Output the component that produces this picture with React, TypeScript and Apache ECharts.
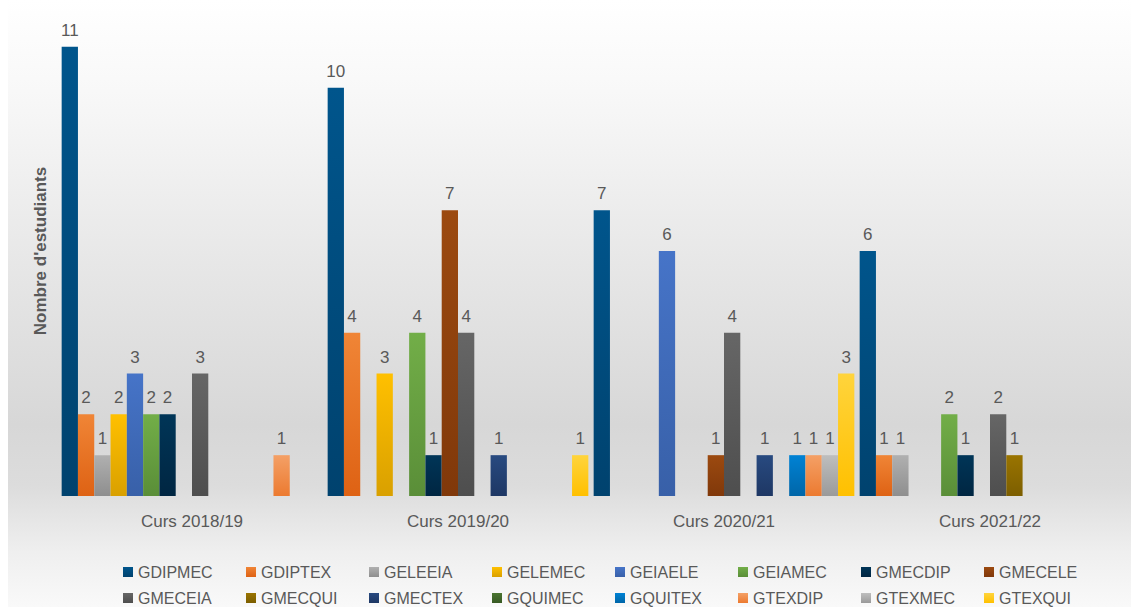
import React, { useEffect, useRef } from "react";
import * as echarts from "echarts";

const categories = ["Curs 2018/19", "Curs 2019/20", "Curs 2020/21", "Curs 2021/22"];

const seriesNames = [
  "GDIPMEC", "GDIPTEX", "GELEEIA", "GELEMEC", "GEIAELE", "GEIAMEC", "GMECDIP", "GMECELE",
  "GMECEIA", "GMECQUI", "GMECTEX", "GQUIMEC", "GQUITEX", "GTEXDIP", "GTEXMEC", "GTEXQUI",
];

const GDIPMEC = [11, 10, 7, 6];
const GDIPTEX = [2, 4, 0, 1];
const GELEEIA = [1, 0, 0, 1];
const GELEMEC = [2, 3, 0, 0];
const GEIAELE = [3, 0, 6, 0];
const GEIAMEC = [2, 4, 0, 2];
const GMECDIP = [2, 1, 0, 1];
const GMECELE = [0, 7, 1, 0];
const GMECEIA = [3, 4, 4, 2];
const GMECQUI = [0, 0, 0, 1];
const GMECTEX = [0, 1, 1, 0];
const GQUIMEC = [0, 0, 0, 0];
const GQUITEX = [0, 0, 1, 0];
const GTEXDIP = [1, 0, 1, 0];
const GTEXMEC = [0, 0, 1, 0];
const GTEXQUI = [0, 1, 3, 0];

const seriesValues = [
  GDIPMEC, GDIPTEX, GELEEIA, GELEMEC, GEIAELE, GEIAMEC, GMECDIP, GMECELE,
  GMECEIA, GMECQUI, GMECTEX, GQUIMEC, GQUITEX, GTEXDIP, GTEXMEC, GTEXQUI,
];

const seriesColors: [string, string][] = [
  ["#00558C", "#00426E"],
  ["#F08536", "#DE6214"],
  ["#B0B0B0", "#8E8E8E"],
  ["#FFC000", "#D9A000"],
  ["#4674C8", "#3860A8"],
  ["#72AE48", "#5A8E38"],
  ["#003557", "#002642"],
  ["#9C4A10", "#80380A"],
  ["#666666", "#4E4E4E"],
  ["#9A7400", "#7C5E00"],
  ["#284A80", "#1E3764"],
  ["#4A7430", "#385A24"],
  ["#0082D4", "#0066A8"],
  ["#F4A066", "#EC7A30"],
  ["#BEBEBE", "#9A9A9A"],
  ["#FFD43C", "#FFC000"],
];

const yAxisTitle = "Nombre d'estudiants";

export default function App() {
  const ref = useRef<HTMLDivElement>(null);

  useEffect(() => {
    if (!ref.current) return;
    const chart = echarts.init(ref.current, undefined, { renderer: "svg" });
    const textColor = "#595959";
    const font = "'Liberation Sans', Arial, sans-serif";

    const series = seriesNames.map((name, i) => ({
      name,
      type: "bar",
      data: seriesValues[i],
      barGap: "0%",
      barCategoryGap: "2%",
      itemStyle: {
        color: new echarts.graphic.LinearGradient(0, 0, 0, 1, [
          { offset: 0, color: seriesColors[i][0] },
          { offset: 1, color: seriesColors[i][1] },
        ]),
      },
      label: {
        show: true,
        position: "top",
        distance: 8,
        color: textColor,
        fontSize: 17,
        fontFamily: font,
        formatter: (p: any) => (p.value ? String(p.value) : ""),
      },
    }));

    const legendCommon = {
      left: 115,
      padding: 0,
      orient: "horizontal",
      itemWidth: 10,
      itemHeight: 10,
      itemGap: 10,
      icon: "rect",
      formatter: (name: string) => `{n|${name}}`,
      textStyle: {
        color: textColor,
        fontSize: 16,
        fontFamily: font,
        lineHeight: 16,
        rich: {
          n: { width: 98, fontSize: 16, lineHeight: 16, color: textColor, fontFamily: font },
        },
      },
    };

    chart.setOption({
      animation: false,
      backgroundColor: new echarts.graphic.LinearGradient(0, 0, 0, 1, [
        { offset: 0, color: "#FFFFFF" },
        { offset: 0.15, color: "#F8F8F8" },
        { offset: 0.45, color: "#E6E6E6" },
        { offset: 0.7, color: "#D7D7D7" },
        { offset: 0.8, color: "#DCDCDC" },
        { offset: 0.91, color: "#EFEFEF" },
        { offset: 1, color: "#F9F9F9" },
      ]),
      grid: { left: 51, right: 8, top: 6, bottom: 111 },
      xAxis: {
        type: "category",
        data: categories,
        axisLine: { show: false },
        axisTick: { show: false },
        axisLabel: { color: textColor, fontSize: 17, fontFamily: font, margin: 17 },
      },
      yAxis: {
        type: "value",
        min: 0,
        max: 12,
        axisLabel: { show: false },
        axisLine: { show: false },
        axisTick: { show: false },
        splitLine: { show: false },
        name: yAxisTitle,
        nameLocation: "middle",
        nameRotate: 90,
        nameGap: 10,
        nameTextStyle: { color: textColor, fontSize: 17, fontWeight: "bold", fontFamily: font },
      },
      legend: [
        { ...legendCommon, top: 564, data: seriesNames.slice(0, 8) },
        { ...legendCommon, top: 590, data: seriesNames.slice(8) },
      ],
      series,
    });
    return () => chart.dispose();
  }, []);

  return (
    <div
      ref={ref}
      style={{ position: "absolute", left: 8, top: 0, width: 1123, height: 607 }}
    />
  );
}
